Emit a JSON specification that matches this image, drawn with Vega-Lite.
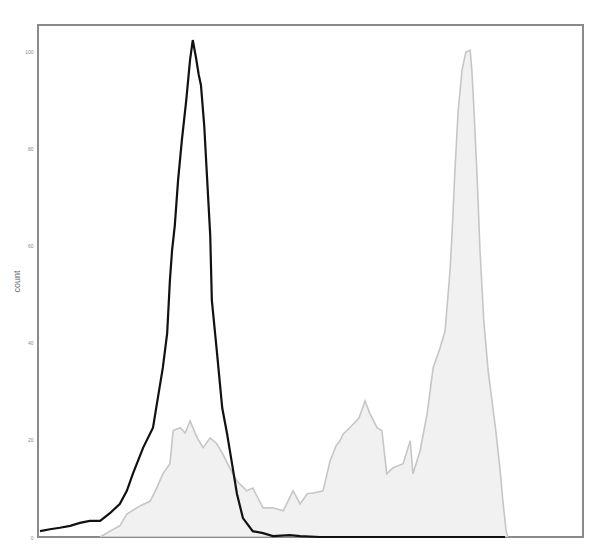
{
  "$schema": "https://vega.github.io/schema/vega-lite/v6.json",
  "autosize": {"type": "none"},
  "width": 545,
  "height": 512,
  "padding": {"left": 38, "top": 25, "right": 25, "bottom": 8},
  "background": "white",
  "config": {"view": {"stroke": "#8a8a8a", "strokeWidth": 2}},
  "datasets": {
    "neg": [
      {"x": 3.7, "y": 1.2}, {"x": 22, "y": 1.6}, {"x": 40, "y": 1.9}, {"x": 59, "y": 2.3},
      {"x": 77, "y": 2.9}, {"x": 95, "y": 3.3}, {"x": 114, "y": 3.3}, {"x": 132, "y": 4.9},
      {"x": 150, "y": 6.8}, {"x": 163, "y": 9.5}, {"x": 174, "y": 13.0}, {"x": 193, "y": 18.4},
      {"x": 211, "y": 22.5}, {"x": 220, "y": 28.7}, {"x": 229, "y": 34.8}, {"x": 237, "y": 41.9},
      {"x": 242, "y": 52.8}, {"x": 246, "y": 59.0}, {"x": 251, "y": 64.1}, {"x": 257, "y": 73.4},
      {"x": 264, "y": 81.7}, {"x": 272, "y": 89.9}, {"x": 279, "y": 98.2}, {"x": 284, "y": 102.3},
      {"x": 290, "y": 98.6}, {"x": 295, "y": 95.1}, {"x": 299, "y": 93.0}, {"x": 305, "y": 84.7},
      {"x": 310, "y": 74.4}, {"x": 316, "y": 62.1}, {"x": 319, "y": 48.7}, {"x": 328, "y": 38.4},
      {"x": 338, "y": 26.6}, {"x": 347, "y": 21.2}, {"x": 356, "y": 15.1}, {"x": 365, "y": 8.9},
      {"x": 376, "y": 3.9}, {"x": 394, "y": 1.2}, {"x": 413, "y": 0.8}, {"x": 431, "y": 0.2},
      {"x": 462, "y": 0.4}, {"x": 481, "y": 0.2}, {"x": 517, "y": 0}, {"x": 857, "y": 0}
    ],
    "pos": [
      {"x": 114, "y": 0}, {"x": 132, "y": 1.2}, {"x": 150, "y": 2.3}, {"x": 163, "y": 4.7},
      {"x": 187, "y": 6.4}, {"x": 206, "y": 7.4}, {"x": 218, "y": 10.1}, {"x": 229, "y": 13.0},
      {"x": 242, "y": 15.1}, {"x": 248, "y": 21.9}, {"x": 261, "y": 22.5}, {"x": 270, "y": 21.4},
      {"x": 279, "y": 23.9}, {"x": 292, "y": 20.4}, {"x": 303, "y": 18.4}, {"x": 316, "y": 20.4},
      {"x": 328, "y": 19.2}, {"x": 339, "y": 17.1}, {"x": 352, "y": 14.2}, {"x": 365, "y": 11.5},
      {"x": 383, "y": 9.5}, {"x": 394, "y": 10.1}, {"x": 413, "y": 6.0}, {"x": 431, "y": 6.0},
      {"x": 450, "y": 5.4}, {"x": 468, "y": 9.5}, {"x": 481, "y": 6.8}, {"x": 494, "y": 8.9},
      {"x": 508, "y": 9.1}, {"x": 523, "y": 9.5}, {"x": 536, "y": 15.7}, {"x": 547, "y": 18.8},
      {"x": 554, "y": 19.8}, {"x": 560, "y": 21.2}, {"x": 572, "y": 22.5}, {"x": 589, "y": 24.5},
      {"x": 600, "y": 28.0}, {"x": 609, "y": 25.4}, {"x": 622, "y": 22.5}, {"x": 631, "y": 21.9},
      {"x": 640, "y": 13.0}, {"x": 651, "y": 14.2}, {"x": 670, "y": 15.1}, {"x": 683, "y": 19.8},
      {"x": 688, "y": 13.0}, {"x": 701, "y": 17.7}, {"x": 714, "y": 25.4}, {"x": 725, "y": 34.8},
      {"x": 738, "y": 39.0}, {"x": 747, "y": 42.5}, {"x": 756, "y": 54.8}, {"x": 760, "y": 63.1},
      {"x": 765, "y": 75.5}, {"x": 771, "y": 87.8}, {"x": 778, "y": 96.1}, {"x": 785, "y": 99.8},
      {"x": 793, "y": 100.2}, {"x": 796, "y": 96.1}, {"x": 800, "y": 87.8}, {"x": 806, "y": 73.4},
      {"x": 811, "y": 59.0}, {"x": 818, "y": 44.5}, {"x": 826, "y": 34.2}, {"x": 833, "y": 28.0},
      {"x": 840, "y": 21.9}, {"x": 848, "y": 13.6}, {"x": 853, "y": 7.4}, {"x": 859, "y": 1.2},
      {"x": 862, "y": 0}
    ]
  },
  "encoding": {
    "x": {"field": "x", "type": "quantitative", "scale": {"domain": [0, 1000], "nice": false}, "axis": null},
    "y": {
      "field": "y", "type": "quantitative",
      "scale": {"domain": [0, 105.4], "nice": false},
      "axis": {
        "title": "count", "titleFont": "Liberation Sans", "titleFontSize": 9, "titleFontWeight": "normal",
        "titleColor": "#666", "titlePadding": 3,
        "values": [0, 20, 40, 60, 80, 100],
        "labelFont": "Liberation Sans", "labelFontSize": 5, "labelColor": "#888", "labelPadding": 5,
        "ticks": false, "domain": false, "grid": false
      }
    }
  },
  "layer": [
    {
      "data": {"name": "pos"},
      "mark": {"type": "area", "color": "#ebebeb", "line": {"color": "#c6c6c6", "strokeWidth": 1.6}}
    },
    {
      "data": {"name": "neg"},
      "mark": {"type": "line", "color": "#111111", "strokeWidth": 2.2}
    }
  ]
}
